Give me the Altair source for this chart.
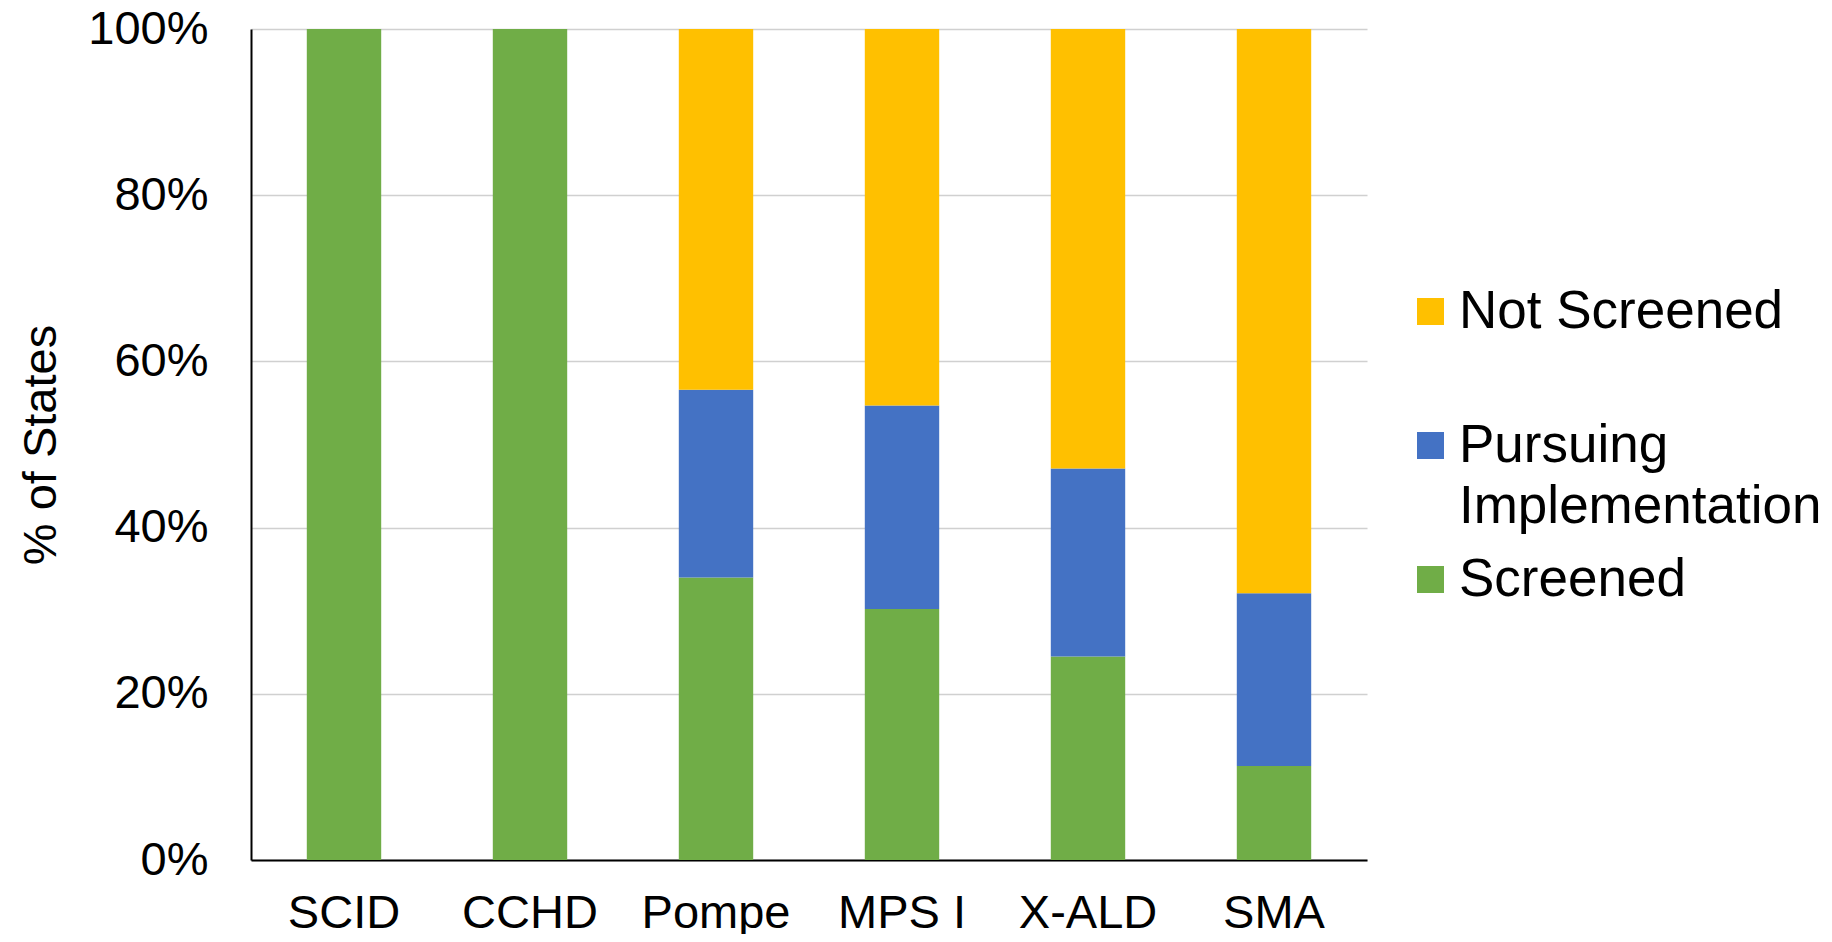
import altair as alt
import pandas as pd

categories = ["SCID", "CCHD", "Pompe", "MPS I", "X-ALD", "SMA"]
screened = [1.000, 1.000, 0.340, 0.302, 0.245, 0.113]
pursuing = [0.000, 0.000, 0.226, 0.245, 0.226, 0.208]
not_screened = [0.000, 0.000, 0.434, 0.453, 0.529, 0.679]

stack_names = ["Screened", "Pursuing Implementation", "Not Screened"]
legend_names = ["Not Screened", "Pursuing Implementation", "Screened"]
legend_colors = ["#FFC000", "#4472C4", "#70AD47"]

rows = []
for i, c in enumerate(categories):
    for k, (name, vals) in enumerate(zip(stack_names, [screened, pursuing, not_screened])):
        rows.append({"Condition": c, "Status": name, "Share": vals[i], "order": k})
df = pd.DataFrame(rows)

FONT = "Liberation Sans"
FS = 47
LFS = 53

chart = alt.Chart(df).mark_bar().encode(
    x=alt.X("Condition:N", sort=categories,
            scale=alt.Scale(paddingInner=0.6, paddingOuter=0.3),
            axis=alt.Axis(title=None, labelAngle=0, ticks=False, labelPadding=30,
                          labelFontSize=FS, labelFont=FONT, labelColor="#000000",
                          domainColor="#000000", domainWidth=2, grid=False)),
    y=alt.Y("Share:Q", stack="zero",
            scale=alt.Scale(domain=[0, 1], nice=False),
            axis=alt.Axis(title="% of States", format=".0%", values=[0, 0.2, 0.4, 0.6, 0.8, 1.0],
                          ticks=False, labelPadding=43, labelFontSize=FS, labelFont=FONT,
                          labelColor="#000000", titleFont=FONT, titleFontSize=FS,
                          titleFontWeight="normal", titleColor="#000000", titlePadding=22,
                          domainColor="#000000", domainWidth=2,
                          gridColor="#D0D0D0", gridWidth=1.5)),
    color=alt.Color("Status:N",
                    scale=alt.Scale(domain=legend_names, range=legend_colors),
                    legend=alt.Legend(title=None, orient="none", legendX=1153, legendY=256,
                                      symbolType="square", symbolSize=729, symbolStrokeWidth=0,
                                      labelFont=FONT, labelFontSize=LFS, labelColor="#000000",
                                      labelOffset=2, rowPadding=19, labelLimit=700,
                                      labelExpr="datum.label == 'Pursuing Implementation' ? ['Pursuing', 'Implementation'] : (datum.label == 'Not Screened' ? ['Not Screened', ''] : datum.label)")),
    order=alt.Order("order:Q"),
).properties(
    width=1116, height=831,
    autosize=alt.AutoSizeParams(type="none"),
    padding={"left": 243, "top": 21, "right": 455, "bottom": 74},
).configure(style={"guide-label": {"lineHeight": 61}}).configure_view(stroke=None)

chart.save("out.html", embed_options={"renderer": "svg", "actions": False})
